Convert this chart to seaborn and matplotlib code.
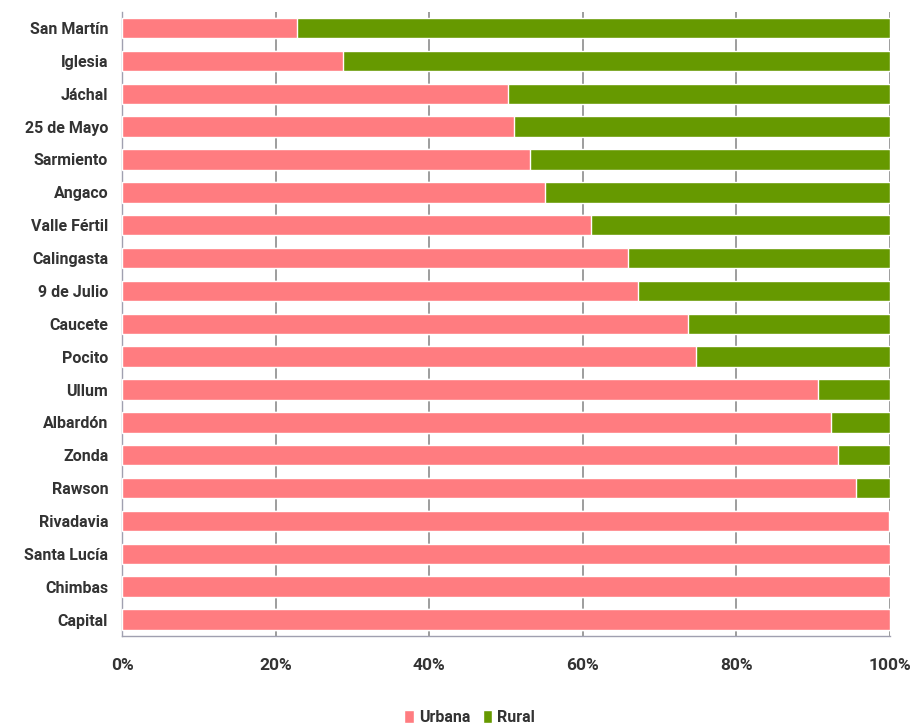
import matplotlib
matplotlib.use("Agg")
import matplotlib.pyplot as plt
import seaborn as sns
import pandas as pd
from matplotlib.patches import Patch
from matplotlib.ticker import PercentFormatter

departamentos = ["San Martín", "Iglesia", "Jáchal", "25 de Mayo", "Sarmiento", "Angaco",
                 "Valle Fértil", "Calingasta", "9 de Julio", "Caucete", "Pocito", "Ullum",
                 "Albardón", "Zonda", "Rawson", "Rivadavia", "Santa Lucía", "Chimbas", "Capital"]
urbana = [22.8, 28.8, 50.3, 51.0, 53.1, 55.1, 61.1, 65.9, 67.2, 73.7, 74.7, 90.6,
          92.3, 93.2, 95.6, 99.8, 100.0, 100.0, 100.0]
rural = [100 - u for u in urbana]
x_ticks = [0, 20, 40, 60, 80, 100]

df = pd.DataFrame({"dep": departamentos, "urbana": urbana, "rural": rural})
df["total"] = df["urbana"] + df["rural"]

sns.set_theme(style="white")
plt.rcParams["font.family"] = ["Roboto", "DejaVu Sans"]

c_urb = "#FF7C80"
c_rur = "#669900"
txt = "#333333"

fig = plt.figure(figsize=(9.12, 7.26), dpi=100)
ax = fig.add_axes([0.1338, 0.124, 0.976 - 0.1338, 0.984 - 0.124])

sns.barplot(data=df, y="dep", x="total", color=c_rur, orient="h", width=0.62,
            ax=ax, saturation=1, zorder=2)
sns.barplot(data=df, y="dep", x="urbana", color=c_urb, orient="h", width=0.62,
            ax=ax, saturation=1, zorder=3)

ax.set_xlim(0, 100)
ax.set_ylim(len(departamentos) - 0.5, -0.5)
ax.set_xticks(x_ticks)
ax.xaxis.set_major_formatter(PercentFormatter(decimals=0))
ax.grid(axis="x", color="#8c8c8c", linewidth=1.2, zorder=0)
ax.set_axisbelow(True)
ax.set_xlabel("")
ax.set_ylabel("")
for s in ["top", "right"]:
    ax.spines[s].set_visible(False)
ax.spines["left"].set_color("#a0a0b0")
ax.spines["bottom"].set_color("#a0a0b0")
ax.spines["left"].set_linewidth(1.0)
ax.spines["bottom"].set_linewidth(1.0)
ax.tick_params(axis="y", length=0, pad=10, labelsize=11.5, labelcolor=txt)
ax.tick_params(axis="x", length=0, pad=16, labelsize=12.5, labelcolor=txt)
for lbl in ax.get_yticklabels() + ax.get_xticklabels():
    lbl.set_fontweight("bold")

handles = [Patch(facecolor=c_urb, label="Urbana"), Patch(facecolor=c_rur, label="Rural")]
leg = fig.legend(handles=handles, loc="center", bbox_to_anchor=(0.515, 0.012), ncol=2,
                 frameon=False, handlelength=0.6, handleheight=0.9, handletextpad=0.3,
                 columnspacing=0.8, prop={"weight": "bold", "size": 11.5})
for t in leg.get_texts():
    t.set_color(txt)

fig.savefig("out.png", dpi=100)
